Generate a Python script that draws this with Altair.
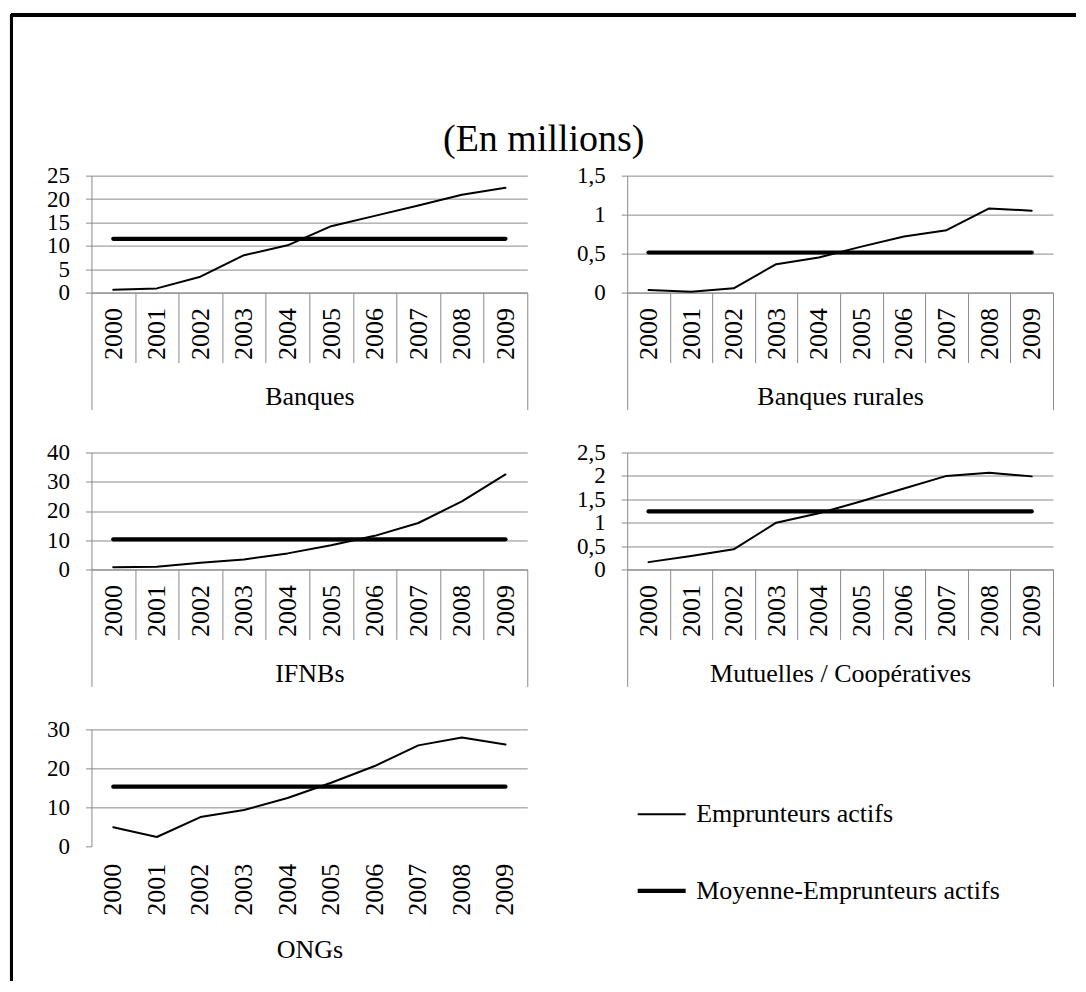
import altair as alt
import pandas as pd

SERIF = "Liberation Serif"
GRAY = "#8a8a8a"

YEARS = ["2000", "2001", "2002", "2003", "2004", "2005", "2006", "2007", "2008", "2009"]
PANELS = ["Banques", "Banques rurales", "IFNBs", "Mutuelles / Coopératives", "ONGs"]
SERIES = ["Emprunteurs actifs", "Moyenne-Emprunteurs actifs"]

BANQUES = [0.6, 0.9, 3.4, 8.0, 10.1, 14.2, 16.4, 18.6, 20.9, 22.4]
BANQUES_RURALES = [0.034, 0.01, 0.055, 0.365, 0.45, 0.59, 0.72, 0.80, 1.08, 1.05]
IFNBS = [0.8, 0.9, 2.3, 3.4, 5.5, 8.3, 11.5, 15.9, 23.3, 32.5]
MUTUELLES = [0.157, 0.29, 0.43, 1.0, 1.2, 1.46, 1.73, 2.0, 2.07, 1.99]
ONGS = [4.9, 2.4, 7.5, 9.3, 12.4, 16.3, 20.6, 25.9, 27.9, 26.1]
MOYENNES = [11.5, 0.514, 10.3, 1.24, 15.3]

Y_MAX = [25, 1.5, 40, 2.5, 30]
Y_TICKS = [
    [0, 5, 10, 15, 20, 25],
    [0, 0.5, 1, 1.5],
    [0, 10, 20, 30, 40],
    [0, 0.5, 1, 1.5, 2, 2.5],
    [0, 10, 20, 30],
]
VALUES = [BANQUES, BANQUES_RURALES, IFNBS, MUTUELLES, ONGS]
WIDTHS = [436, 426, 436, 426, 436]
HEIGHT = 117


def make_df(i):
    rows = []
    for y, v in zip(YEARS, VALUES[i]):
        rows.append({"annee": y, "valeur": v, "serie": SERIES[0]})
    for y in YEARS:
        rows.append({"annee": y, "valeur": MOYENNES[i], "serie": SERIES[1]})
    return pd.DataFrame(rows)


legend = alt.Legend(
    title=None, orient="none", legendX=544, legendY=614, padding=0,
    symbolType="stroke", symbolSize=2304, symbolStrokeColor="black",
    labelFont=SERIF, labelFontSize=26, labelColor="black", labelOffset=8,
    rowPadding=37, labelLimit=0,
)


def panel(i):
    ongs = i == 4
    if ongs:
        xaxis = alt.Axis(
            title=PANELS[i], domain=False, ticks=False, labelAngle=270,
            labelPadding=17, labelFontSize=26, titleY=103, titleBaseline="middle",
            titleFontSize=26, grid=False,
        )
    else:
        xaxis = alt.Axis(
            title=PANELS[i], domain=True, domainColor=GRAY, ticks=True,
            tickBand="extent", tickColor=GRAY,
            tickSize=alt.ExprRef(expr="datum.index == 1 || datum.index == -1 ? 117 : 70"),
            labelPadding=alt.ExprRef(expr="datum.index == 1 ? -102 : -55"),
            labelAngle=270, labelFontSize=26, titleY=104, titleBaseline="middle",
            titleFontSize=26, grid=False,
        )
    yargs = dict(
        values=Y_TICKS[i], title=None, grid=True, gridColor=GRAY, domainColor=GRAY,
        tickColor=GRAY, tickSize=6, labelPadding=16, labelFontSize=23,
        labelExpr="replace(toString(datum.value), '.', ',')",
    )
    if ongs:
        yargs["gridOpacity"] = alt.ExprRef(expr="datum.value == 0 ? 0 : 1")
    yaxis = alt.Axis(**yargs)

    base = alt.Chart(make_df(i)).mark_line(color="black", strokeJoin="round", strokeCap="round").encode(
        x=alt.X("annee:O", sort=YEARS,
                scale=alt.Scale(type="band", paddingInner=0, paddingOuter=0), axis=xaxis),
        y=alt.Y("valeur:Q", scale=alt.Scale(domain=[0, Y_MAX[i]], nice=False, zero=True), axis=yaxis),
        strokeWidth=alt.StrokeWidth("serie:O", sort=SERIES,
                                    scale=alt.Scale(domain=SERIES, range=[2, 4.2]), legend=legend),
    )
    layers = [base]
    if i == 0:
        frame_top = alt.Chart(make_df(i)).mark_rule(color="black", strokeWidth=3).encode(
            x=alt.value(-80), x2=alt.value(985), y=alt.value(-161))
        frame_left = alt.Chart(make_df(i)).mark_rule(color="black", strokeWidth=3).encode(
            x=alt.value(-80), y=alt.value(-161), y2=alt.value(805))
        layers = [frame_top, frame_left, base]
    return alt.layer(*layers).properties(width=WIDTHS[i], height=HEIGHT)


chart = alt.concat(
    *[panel(i) for i in range(5)], columns=2, spacing={"row": 160, "column": 100}, bounds="flush"
).properties(
    title=alt.TitleParams(
        text="(En millions)", font=SERIF, fontSize=38, fontWeight="normal",
        color="black", anchor="middle", dy=150,
    ),
    padding={"left": 1.5, "top": 4.5, "right": 0, "bottom": 0},
    background="white",
).resolve_scale(strokeWidth="shared").configure_view(stroke=None).configure_axis(
    labelFont=SERIF, titleFont=SERIF, labelColor="black", titleColor="black",
    titleFontWeight="normal",
)

chart.save("out.html", embed_options={"renderer": "svg", "actions": False})
